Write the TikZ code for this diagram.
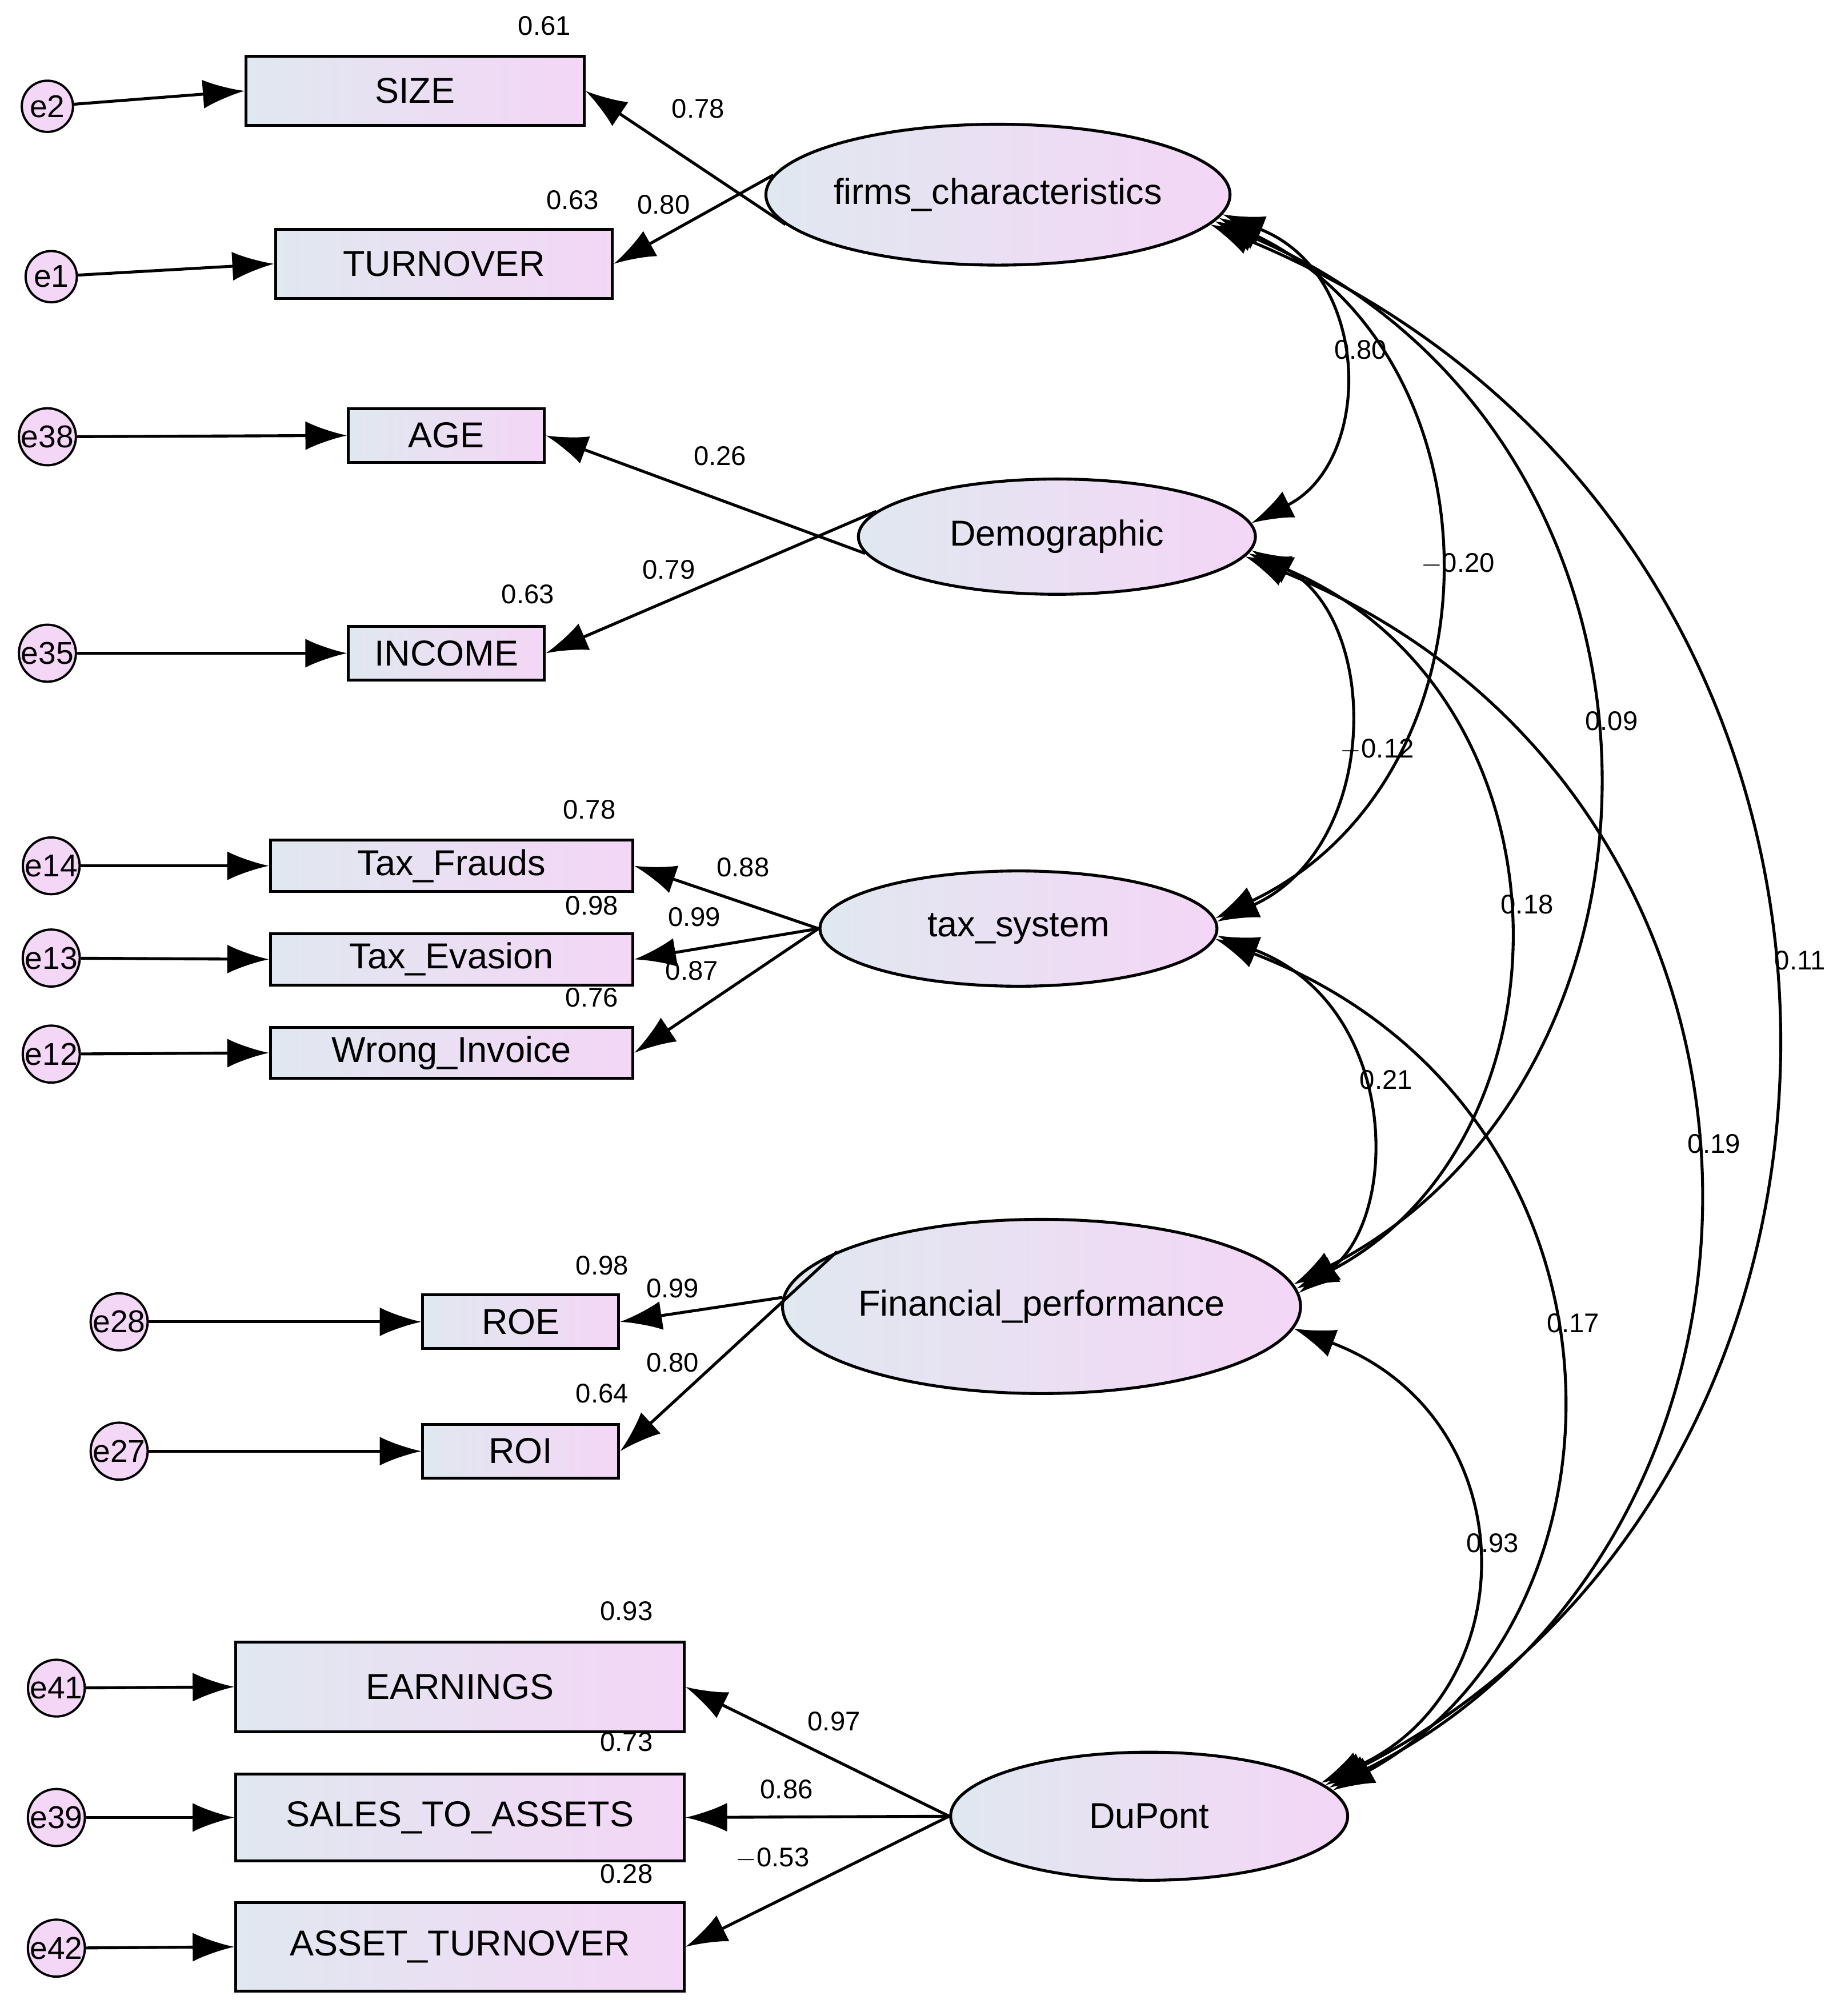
\documentclass[tikz,border=0pt]{standalone}
\usepackage{fontspec}
\setmainfont{Liberation Sans}
\usetikzlibrary{shapes.geometric,arrows.meta}
\begin{document}
\begin{tikzpicture}[x=0.02cm,y=-0.02cm,
 lat/.style={ellipse,draw,line width=1.3pt,left color={rgb,255:red,224;green,232;blue,240},right color={rgb,255:red,244;green,214;blue,246},font=\fontsize{16}{18}\selectfont,inner sep=0pt},
 obs/.style={draw,line width=1.3pt,left color={rgb,255:red,224;green,232;blue,240},right color={rgb,255:red,244;green,214;blue,246},font=\fontsize{16}{18}\selectfont,inner sep=0pt},
 err/.style={circle,draw,line width=1pt,fill={rgb,255:red,244;green,214;blue,246},minimum size=0.8cm,inner sep=0pt,font=\fontsize{14}{16}\selectfont},
 lab/.style={font=\fontsize{12}{14}\selectfont,inner sep=1pt},
 arr/.style={line width=1.3pt,-{Latex[length=0.65cm,width=0.45cm]}},
 cov/.style={line width=1.3pt,{Latex[length=0.65cm,width=0.45cm]}-{Latex[length=0.65cm,width=0.45cm]}}]
\useasboundingbox (0,0) rectangle (1440,1574);
% latent
\node[lat,minimum width=6.8cm,minimum height=2.2cm] (fc) at (779,152) {firms\_characteristics};
\node[lat,minimum width=6.2cm,minimum height=1.8cm] (dem) at (825,419) {Demographic};
\node[lat,minimum width=6.2cm,minimum height=1.8cm] (tax) at (795,725) {tax\_system};
\node[lat,minimum width=7.8cm,minimum height=2.72cm] (fin) at (813,1020) {Financial\_performance};
\node[lat,minimum width=6.2cm,minimum height=2.0cm] (dp) at (897,1418) {DuPont};
% observed
\node[obs,minimum width=5.28cm,minimum height=1.08cm] (size) at (324,71) {SIZE};
\node[obs,minimum width=5.26cm,minimum height=1.08cm] (turn) at (346.5,206) {TURNOVER};
\node[obs,minimum width=3.06cm,minimum height=0.84cm] (age) at (348.5,340) {AGE};
\node[obs,minimum width=3.06cm,minimum height=0.84cm] (inc) at (348.5,510) {INCOME};
\node[obs,minimum width=5.66cm,minimum height=0.8cm] (tf) at (352.5,676) {Tax\_Frauds};
\node[obs,minimum width=5.66cm,minimum height=0.8cm] (te) at (352.5,749) {Tax\_Evasion};
\node[obs,minimum width=5.66cm,minimum height=0.8cm] (wi) at (352.5,822) {Wrong\_Invoice};
\node[obs,minimum width=3.06cm,minimum height=0.84cm] (roe) at (406.5,1032) {ROE};
\node[obs,minimum width=3.06cm,minimum height=0.84cm] (roi) at (406.5,1133) {ROI};
\node[obs,minimum width=7.0cm,minimum height=1.4cm] (ear) at (359,1317) {EARNINGS};
\node[obs,minimum width=7.0cm,minimum height=1.36cm] (sta) at (359,1419) {SALES\_TO\_ASSETS};
\node[obs,minimum width=7.0cm,minimum height=1.38cm] (at) at (359,1520) {ASSET\_TURNOVER};
% errors
\node[err] (e2) at (37,83) {e2};
\node[err] (e1) at (40,216) {e1};
\node[err] (e38) at (37,341) {e38};
\node[err] (e35) at (37,510) {e35};
\node[err] (e14) at (40,676) {e14};
\node[err] (e13) at (40,748) {e13};
\node[err] (e12) at (40,823) {e12};
\node[err] (e28) at (93,1032) {e28};
\node[err] (e27) at (93,1133) {e27};
\node[err] (e41) at (44,1318) {e41};
\node[err] (e39) at (44,1419) {e39};
\node[err] (e42) at (44,1521) {e42};
\foreach \a/\b in {e2/size,e1/turn,e38/age,e35/inc,e14/tf,e13/te,e12/wi,e28/roe,e27/roi,e41/ear,e39/sta,e42/at}
  \draw[arr] (\a) -- (\b.west);
% loadings
\draw[arr] (fc.188) -- (size.east);
\draw[arr] (fc.175) -- (turn.east);
\draw[arr] (dem.185) -- (age.east);
\draw[arr] (dem.172) -- (inc.east);
\draw[arr] (tax.180) -- (tf.east);
\draw[arr] (tax.180) -- (te.east);
\draw[arr] (tax.180) -- (wi.east);
\draw[arr] (fin.178) -- (roe.east);
\draw[arr] (fin.165) -- (roi.east);
\draw[arr] (dp.180) -- (ear.east);
\draw[arr] (dp.180) -- (sta.east);
\draw[arr] (dp.180) -- (at.east);
% covariances
\draw[cov] (fc.-5) .. controls (1072,214) and (1072,361) .. (dem.4);
\draw[cov] (fc.-6) .. controls (1177,278) and (1177,608) .. (tax.3);
\draw[cov] (fc.-7) .. controls (1331,335) and (1331,838) .. (fin.5);
\draw[cov] (fc.-8) .. controls (1513,411) and (1513,1149) .. (dp.10);
\draw[cov] (dem.-4) .. controls (1078,484) and (1078,661) .. (tax.2);
\draw[cov] (dem.-5) .. controls (1234,541) and (1234,889) .. (fin.4);
\draw[cov] (dem.-6) .. controls (1427,619) and (1427,1201) .. (dp.9);
\draw[cov] (tax.-2) .. controls (1093,785) and (1093,950) .. (fin.3);
\draw[cov] (tax.-3) .. controls (1287,863) and (1287,1262) .. (dp.8);
\draw[cov] (fin.-5) .. controls (1192,1106) and (1192,1319) .. (dp.11);
% labels
\foreach \x/\y/\t in {425/20/0.61,545/85/0.78,447/156/0.63,518/160/0.80,562/356/0.26,522/445/0.79,412/464/0.63,
 460/632/0.78,580/677/0.88,462/707/0.98,542/716/0.99,462/779/0.76,540/758/0.87,
 470/988/0.98,525/1006/0.99,525/1064/0.80,470/1088/0.64,489/1258/0.93,651/1344/0.97,489/1360/0.73,614/1397/0.86,489/1463/0.28,
 1062/273/0.80,1258/563/0.09,1405/750/0.11,1192/706/0.18,1338/893/0.19,1082/843/0.21,1228/1033/0.17,1165/1205/0.93}
  \node[lab] at (\x,\y) {\t};
\node[lab] at (603,1451) {$-$0.53};
\node[lab] at (1138,440) {$-$0.20};
\node[lab] at (1075,585) {$-$0.12};
\end{tikzpicture}
\end{document}
